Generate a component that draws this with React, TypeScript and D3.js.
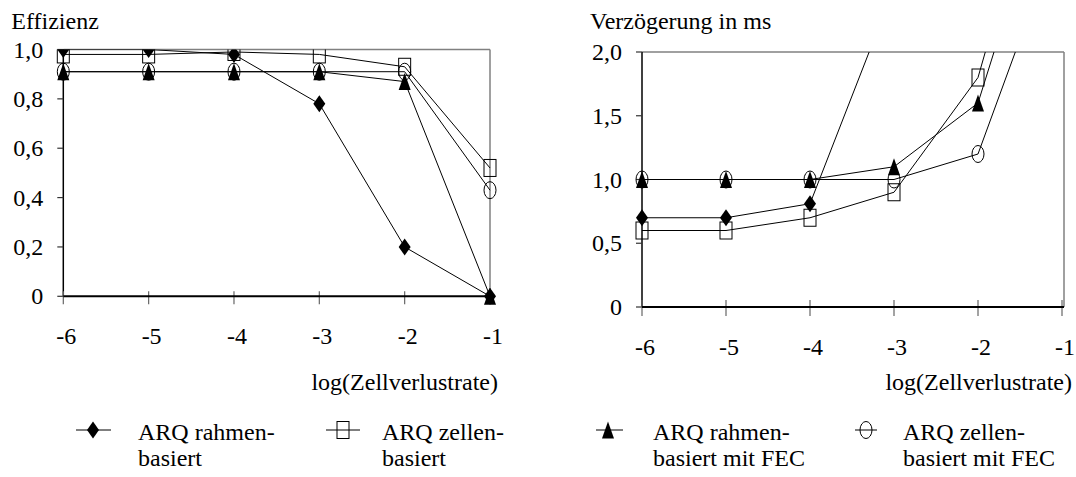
import React from 'react';
import * as d3 from 'd3';

const W = 1076;
const H = 477;
const FONT = "'Liberation Serif', 'Times New Roman', 'DejaVu Serif', serif";

// x values: log(Zellverlustrate)
const xVals = [-6, -5, -4, -3, -2, -1];

// Effizienz
const effRahmen = [1.0, 1.0, 0.98, 0.78, 0.2, 0.0];
const effZellen = [0.98, 0.98, 0.99, 0.98, 0.93, 0.52];
const effRahmenFec = [0.91, 0.91, 0.91, 0.91, 0.87, 0.0];
const effZellenFec = [0.91, 0.91, 0.91, 0.91, 0.91, 0.43];

// Verzoegerung in ms (values above 2,0 leave the plot)
const delRahmen = [0.7, 0.7, 0.81, 2.5, null, null];
const delZellen = [0.6, 0.6, 0.7, 0.9, 1.8, 4.1];
const delRahmenFec = [1.0, 1.0, 1.0, 1.1, 1.6, 3.7];
const delZellenFec = [1.0, 1.0, 1.0, 1.0, 1.2, 3.0];

const effTicks = [0, 0.2, 0.4, 0.6, 0.8, 1.0];
const delTicks = [0, 0.5, 1.0, 1.5, 2.0];

const markers = ['diamond', 'square', 'triangle', 'circle'];
const legendLines = [
  ['ARQ rahmen-', 'basiert'],
  ['ARQ zellen-', 'basiert'],
  ['ARQ rahmen-', 'basiert mit FEC'],
  ['ARQ zellen-', 'basiert mit FEC'],
];

const fmt = (v: number) => (v === 0 ? '0' : d3.format('.1f')(v).replace('.', ','));

const txt = { fontFamily: FONT, fontSize: '24px' };

function Marker({ type, x, y }: { type: string; x: number; y: number }) {
  const w = 12, h = 17;
  if (type === 'diamond')
    return <path d={`M${x},${y - h / 2}L${x + w / 2},${y}L${x},${y + h / 2}L${x - w / 2},${y}Z`} fill="#000" />;
  if (type === 'square')
    return <rect x={x - w / 2} y={y - h / 2} width={w} height={h} fill="none" stroke="#000" strokeWidth={1} />;
  if (type === 'triangle')
    return <path d={`M${x},${y - h / 2}L${x + w / 2},${y + h / 2}L${x - w / 2},${y + h / 2}Z`} fill="#000" />;
  return <ellipse cx={x} cy={y} rx={w / 2} ry={h / 2} fill="none" stroke="#000" strokeWidth={1} />;
}

type PanelProps = {
  id: string;
  x: d3.ScaleLinear<number, number>;
  y: d3.ScaleLinear<number, number>;
  right: number;
  series: (number | null)[][];
  ticks: number[];
  title: string;
  tickUp: number;
  tickDown: number;
};

function Panel({ id, x, y, right, series, ticks, title, tickUp, tickDown }: PanelProps) {
  const [x0] = x.range();
  const [y0, y1] = y.range();
  const [, yMax] = y.domain();
  const line = d3
    .line<number | null>()
    .defined((d) => d !== null)
    .x((_, i) => x(xVals[i]))
    .y((d) => y(d as number));
  return (
    <g>
      <defs>
        <clipPath id={id}>
          <rect x={x0 - 10} y={y1} width={right - x0 + 20} height={y0 - y1 + 12} />
        </clipPath>
      </defs>
      {/* plot area frame */}
      <line x1={x0} x2={right} y1={y1} y2={y1} stroke="#808080" strokeWidth={1.5} />
      <line x1={right} x2={right} y1={y1} y2={y0} stroke="#808080" strokeWidth={1.5} />
      {/* y axis */}
      <line x1={x0} x2={x0} y1={y1} y2={y0} stroke="#000" strokeWidth={1.5} />
      {ticks.map((t) => (
        <g key={t}>
          <line x1={x0 - 6} x2={x0} y1={y(t)} y2={y(t)} stroke="#333" strokeWidth={1.2} />
          <text x={x0 - 20} y={y(t) + 8} textAnchor="end" style={txt}>
            {fmt(t)}
          </text>
        </g>
      ))}
      {/* x axis */}
      {xVals.map((v) => (
        <g key={v}>
          <line x1={x(v)} x2={x(v)} y1={y0 - tickUp} y2={y0 + tickDown} stroke="#666" strokeWidth={1.2} />
          <text x={x(v) + 3} y={y0 + 48} textAnchor="middle" style={txt}>
            {String(v)}
          </text>
        </g>
      ))}
      <line x1={x0} x2={right} y1={y0} y2={y0} stroke="#000" strokeWidth={2} />
      <text x={x0 - 52} y={29} style={txt}>
        {title}
      </text>
      <text x={right + 8} y={390} textAnchor="end" style={txt}>
        log(Zellverlustrate)
      </text>
      <g clipPath={`url(#${id})`}>
        {series.map((s, i) => (
          <path key={i} d={line(s) || ''} fill="none" stroke="#000" strokeWidth={1} />
        ))}
        {series.map((s, i) =>
          s.map((v, j) =>
            v !== null && v <= yMax ? <Marker key={`${i}-${j}`} type={markers[i]} x={x(xVals[j])} y={y(v)} /> : null
          )
        )}
      </g>
    </g>
  );
}

export default function App() {
  const xL = d3.scaleLinear().domain([-6, -1]).range([63.3, 490]);
  const yL = d3.scaleLinear().domain([0, 1]).range([296.3, 49.5]);
  const xR = d3.scaleLinear().domain([-6, -1]).range([642, 1062]);
  const yR = d3.scaleLinear().domain([0, 2]).range([307, 52]);

  const legendPos = [
    { cx: 93, x1: 76, x2: 111, tx: 138 },
    { cx: 343, x1: 326, x2: 360, tx: 382 },
    { cx: 608, x1: 596, x2: 623, tx: 653 },
    { cx: 866, x1: 855, x2: 877, tx: 903 },
  ];

  return (
    <svg width={W} height={H} style={{ position: 'absolute', left: 0, top: 0, background: '#fff' }}>
      <rect width={W} height={H} fill="#fff" />
      <Panel
        id="clipL"
        x={xL}
        y={yL}
        right={490}
        series={[effRahmen, effZellen, effRahmenFec, effZellenFec]}
        ticks={effTicks}
        title="Effizienz"
        tickUp={5}
        tickDown={8}
      />
      <Panel
        id="clipR"
        x={xR}
        y={yR}
        right={1064}
        series={[delRahmen, delZellen, delRahmenFec, delZellenFec]}
        ticks={delTicks}
        title="Verzögerung in ms"
        tickUp={7}
        tickDown={9}
      />
      {markers.map((m, i) => {
        const p = legendPos[i];
        return (
          <g key={m}>
            <line x1={p.x1} x2={p.x2} y1={430} y2={430} stroke="#000" strokeWidth={1} />
            <Marker type={m} x={p.cx} y={430} />
            <text x={p.tx} y={440} style={txt}>
              {legendLines[i][0]}
            </text>
            <text x={p.tx} y={466} style={txt}>
              {legendLines[i][1]}
            </text>
          </g>
        );
      })}
    </svg>
  );
}
